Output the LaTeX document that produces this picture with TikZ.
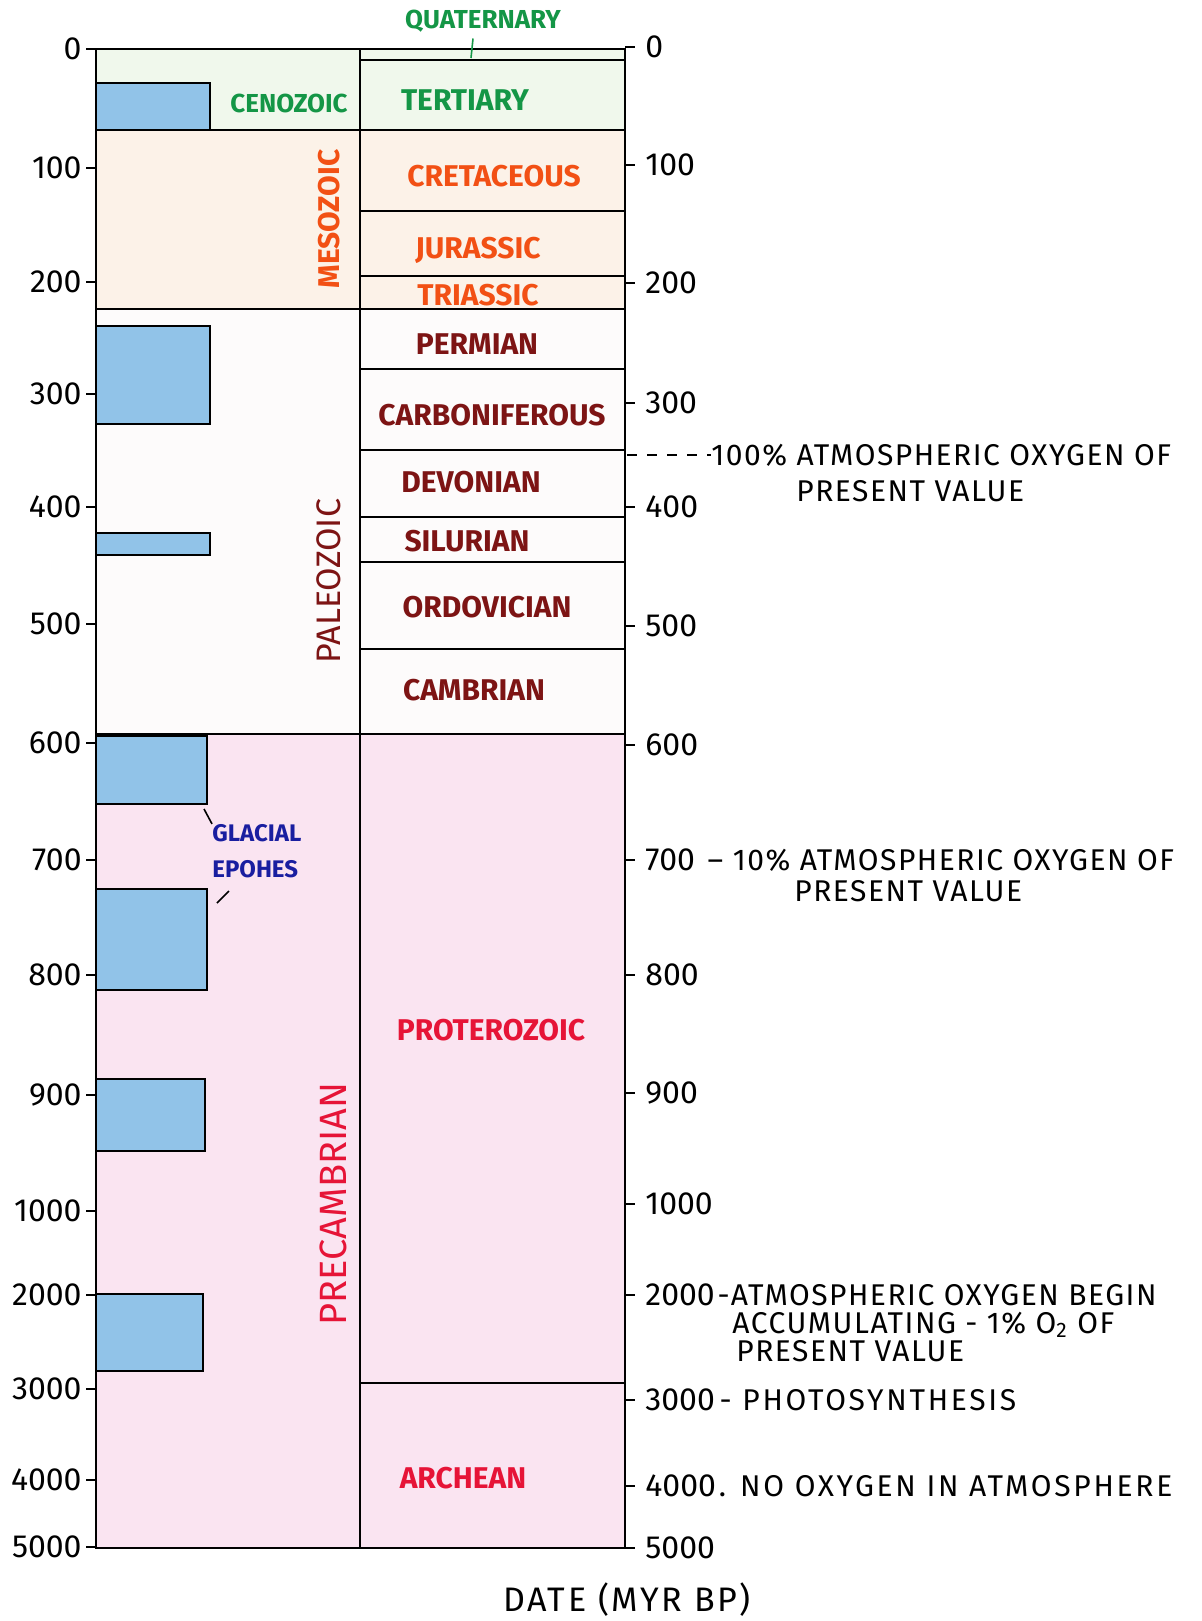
\documentclass[tikz,border=0pt]{standalone}
\usepackage{fontspec}
\setmainfont{Fira Sans}
\usetikzlibrary{positioning}

\definecolor{cenogreen}{RGB}{20,150,70}
\definecolor{mesored}{RGB}{242,80,20}
\definecolor{paleobrown}{RGB}{125,20,20}
\definecolor{prered}{RGB}{230,20,55}
\definecolor{iceblue}{RGB}{25,30,160}
\definecolor{cenofill}{RGB}{240,248,236}
\definecolor{mesofill}{RGB}{252,242,232}
\definecolor{paleofill}{RGB}{253,251,251}
\definecolor{prefill}{RGB}{250,228,241}
\definecolor{icefill}{RGB}{145,195,232}

\begin{document}
\begin{tikzpicture}[x=0.5pt,y=-0.5pt,
  frame/.style={line width=1.2pt},
  icebox/.style={frame, fill=icefill},
  era/.style={font=\fontsize{15}{17}\selectfont\bfseries, inner sep=1pt},
  num/.style={font=\fontsize{16}{18}\selectfont, inner sep=0pt},
  note/.style={font=\fontsize{15}{17}\selectfont\addfontfeatures{LetterSpace=5}, inner sep=0pt}]
\useasboundingbox[fill=white] (0,0) rectangle (1202,1621);

% colour bands of the eras
\fill[cenofill] (96,49) rectangle (625,130);
\fill[mesofill] (96,130) rectangle (625,309);
\fill[paleofill] (96,309) rectangle (625,734);
\fill[prefill] (96,734) rectangle (625,1548);

% glacial epochs
\foreach \a/\b/\w in {83/130/210, 326/424/210, 533/555/210, 736/804/207,
                      889/990/207, 1079/1151/205, 1294/1371/203}
  \filldraw[icebox] (96,\a) rectangle (\w,\b);

% columns and boundaries
\draw[frame] (96,49) rectangle (625,1548);
\draw[frame] (360,49) -- (360,1548);
\foreach \y in {130,309,734}
  \draw[frame] (96,\y) -- (625,\y);
\foreach \y in {60,211,276,369,450,517,562,649,1383}
  \draw[frame] (360,\y) -- (625,\y);

% left scale
\foreach \v/\y in {0/49,100/168,200/282,300/394,400/507,500/624,600/743,700/860,
                   800/975,900/1095,1000/1211,2000/1295,3000/1389,4000/1480,5000/1547} {
  \draw[frame] (86,\y) -- (96,\y);
  \node[num, anchor=east] (l\v) at (82,\y) {\v};
}

% right scale
\foreach \v/\y in {0/47,100/165,200/283,300/403,400/507,500/626,600/745,700/860,
                   800/975,900/1093,1000/1204,2000/1295,3000/1400,4000/1486,5000/1548} {
  \draw[frame] (625,\y) -- (635,\y);
  \node[num, anchor=west] (r\v) at (645,\y) {\v};
}

% eras
\node[era, cenogreen, font=\fontsize{13}{15}\selectfont\bfseries] (ceno) at (289,103) {CENOZOIC};
\node[era, mesored, rotate=90] (meso) at (329,219) {MESOZOIC};
\node[era, paleobrown, rotate=90, font=\fontsize{17}{19}\selectfont] (paleo) at (329,581) {PALEOZOIC};
\node[era, prered, rotate=90, font=\fontsize{19}{21}\selectfont] (precamb) at (333,1204) {PRECAMBRIAN};

% periods
\node[era, cenogreen, font=\fontsize{13}{15}\selectfont\bfseries] (quat) at (483,21) {QUATERNARY};
\coordinate (quatend) at (471,58);
\draw[cenogreen, thick] (quat.south) ++(-10,4) -- (quatend);
\node[era, cenogreen] (tert) at (465,100) {TERTIARY};
\node[era, mesored] (cret) at (494,176) {CRETACEOUS};
\node[era, mesored] (jur) at (478,250) {JURASSIC};
\node[era, mesored] (trias) at (478,295) {TRIASSIC};
\node[era, paleobrown] (perm) at (477,344) {PERMIAN};
\node[era, paleobrown] (carb) at (492,415) {CARBONIFEROUS};
\node[era, paleobrown] (dev) at (471,482) {DEVONIAN};
\node[era, paleobrown] (sil) at (467,541) {SILURIAN};
\node[era, paleobrown] (ord) at (487,607) {ORDOVICIAN};
\node[era, paleobrown] (camb) at (474,690) {CAMBRIAN};
\node[era, prered] (prot) at (491,1030) {PROTEROZOIC};
\node[era, prered] (arch) at (463,1478) {ARCHEAN};

% glacial label
\node[era, iceblue, font=\fontsize{12}{18}\selectfont\bfseries, align=left, anchor=west, inner sep=0pt]
  (glac) at (212,851) {GLACIAL\\EPOHES};
\coordinate (g1) at (204,809);
\coordinate (g2) at (217,903);
\coordinate (g3) at (229,891);
\draw[thick] (g1) -- (glac.north west);
\draw[thick] (g2) -- (g3);

% oxygen notes
\coordinate (dash0) at (627,455);
\node[note, anchor=west] (o100) at (711,455) {100\% ATMOSPHERIC OXYGEN OF};
\draw[thick, dash pattern=on 5pt off 5pt] (dash0) -- (o100.west);
\node[note, anchor=west] (pv100) at (796,491) {PRESENT VALUE};
\node[note, right=6pt of r700] (o700) {-- 10\% ATMOSPHERIC OXYGEN OF};
\node[note, anchor=west] (pv700) at (794,891) {PRESENT VALUE};
\node[note, right=1pt of r2000] (o2000) {-ATMOSPHERIC OXYGEN BEGIN};
\node[note, anchor=west] (acc) at (732,1325) {ACCUMULATING - 1\% O\textsubscript{2} OF};
\node[note, anchor=west] (pv2000) at (736,1351) {PRESENT VALUE};
\node[note, right=2pt of r3000, font=\fontsize{15}{17}\selectfont\addfontfeatures{LetterSpace=9}] (o3000) {- PHOTOSYNTHESIS};
\node[note, right=1pt of r4000, font=\fontsize{15}{17}\selectfont\addfontfeatures{LetterSpace=9}] (o4000) {. NO OXYGEN IN ATMOSPHERE};

\node[note, font=\fontsize{17}{19}\selectfont\addfontfeatures{LetterSpace=8}] (date) at (627,1600) {DATE (MYR BP)};
\end{tikzpicture}
\end{document}
